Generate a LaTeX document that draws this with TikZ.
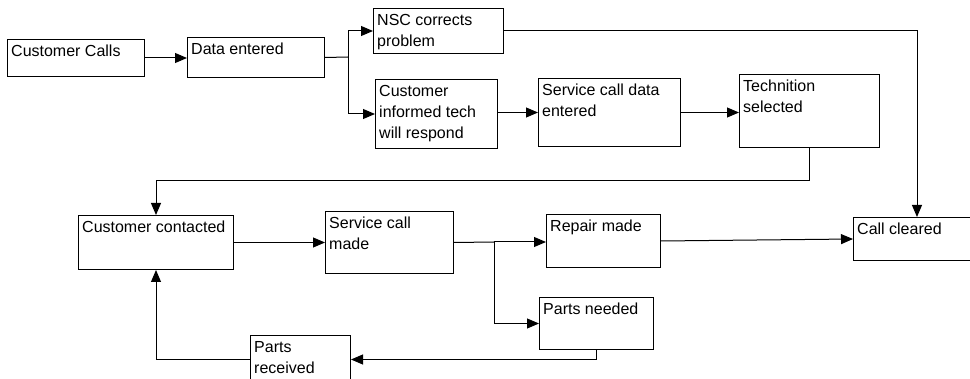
\documentclass[tikz,border=0pt]{standalone}
\usepackage{fontspec}
\setmainfont{Liberation Sans}
\usetikzlibrary{arrows.meta}
\tikzset{
  flowbox/.style={draw=black, line width=1pt, rectangle, inner sep=0pt, anchor=north west},
  flowtxt/.style={inner sep=0pt, anchor=north west, align=left, font=\fontsize{16}{21}\selectfont},
  conn/.style={draw=black, line width=1pt, -{Triangle[length=12pt,width=10pt]}},
  plainline/.style={draw=black, line width=1pt}
}
\newcommand\flowbox[6]{%
  \node[flowbox, minimum width={#4-#2}, minimum height={#5-#3}] (#1) at (#2,#3) {};
  \node[flowtxt] (#1t) at ([shift={(4pt,-5pt)}]#1.north west) {\rule{0pt}{12pt}#6};
}
\begin{document}
\begin{tikzpicture}[x=1pt,y=-1pt]
\path[use as bounding box, clip] (0,0) rectangle (970,379);
\fill[white] (0,0) rectangle (970,379);
\flowbox{cc}{7}{39}{144}{76}{Customer Calls}
\flowbox{de}{187}{37}{324}{77}{Data entered}
\flowbox{nsc}{373}{8}{503}{53}{NSC corrects\\problem}
\flowbox{ci}{375}{79}{497}{148}{Customer\\informed tech\\will respond}
\flowbox{scd}{538}{78}{680}{146}{Service call data\\entered}
\flowbox{ts}{739}{74}{879}{147}{Technition\\selected}
\flowbox{cct}{78}{215}{233}{269}{Customer contacted}
\flowbox{scm}{325}{211}{453}{273}{Service call\\made}
\flowbox{rm}{546}{214}{660}{267}{Repair made}
\flowbox{pn}{539}{297}{653}{349}{Parts needed}
\flowbox{clr}{853}{217}{1000}{260}{Call cleared}
\flowbox{pr}{250}{335}{350}{383}{Parts\\received}
\coordinate (b1) at (348,57);
\coordinate (b2) at (494,242);
\coordinate (cx) at (917,0);
\coordinate (ty) at (0,181);
\draw[conn] (cc.east) -- (cc.east -| de.west);
\draw[plainline] (de.east) -- (b1);
\draw[conn] (b1) |- (nsc.west);
\draw[conn] (b1) |- (ci.west);
\draw[conn] (ci.east |- scd.west) -- (scd.west);
\draw[conn] (scd.east) -- (scd.east -| ts.west);
\draw[conn] (ts.south) |- (ty -| cct.north) -- (cct.north);
\draw[conn] (nsc.east) -| (cx |- clr.north);
\draw[conn] (cct.east) -- (cct.east -| scm.west);
\draw[plainline] (scm.east) -- (b2);
\draw[conn] (b2) -- (b2 -| rm.west);
\draw[conn] (b2) |- (pn.west);
\draw[conn] (rm.east) -- (clr.west);
\draw[conn] (pn.south) |- (pr.east);
\draw[conn] (pr.west) -| (cct.south);
\end{tikzpicture}
\end{document}
